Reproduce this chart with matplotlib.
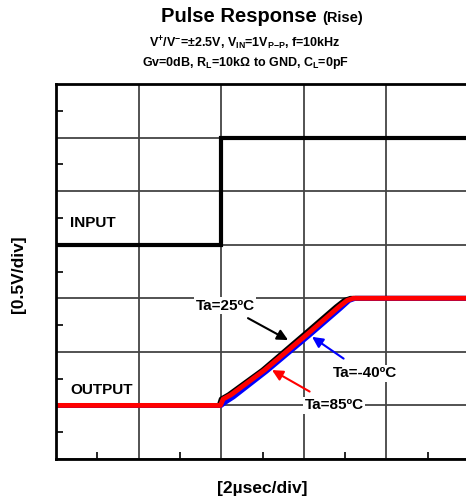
import numpy as np
import matplotlib.pyplot as plt
from matplotlib.ticker import MultipleLocator

plt.rcParams['font.family'] = ['Liberation Sans', 'DejaVu Sans']
plt.rcParams['font.weight'] = 'bold'
plt.rcParams['mathtext.fontset'] = 'custom'
plt.rcParams['mathtext.rm'] = 'Liberation Sans:bold'
plt.rcParams['mathtext.bf'] = 'Liberation Sans:bold'
plt.rcParams['mathtext.default'] = 'bf'

# time in usec, voltage in V (0.5 V/div)
t_in = [0.0, 4.0, 4.0, 10.2]
v_in = [2.0, 2.0, 3.0, 3.0]

t_25 = [0.0, 3.95, 4.0, 4.18, 5.0, 6.0, 6.78, 6.98, 7.13, 10.2]
v_25 = [0.5, 0.5, 0.56, 0.60, 0.83, 1.16, 1.42, 1.48, 1.5, 1.5]

t_m40 = [0.0, 4.0, 4.1, 4.3, 5.1, 6.12, 6.9, 7.1, 7.25, 10.2]
v_m40 = [0.5, 0.5, 0.53, 0.58, 0.82, 1.15, 1.41, 1.48, 1.5, 1.5]

t_85 = [0.0, 3.98, 4.05, 4.24, 5.05, 6.07, 6.85, 7.05, 7.2, 10.2]
v_85 = [0.5, 0.5, 0.56, 0.60, 0.83, 1.16, 1.42, 1.48, 1.5, 1.5]

fig = plt.figure(figsize=(4.66, 5.03), dpi=100)
ax = fig.add_axes([56/466, (503-459)/503, 413/466, 375/503])

ax.set_xlim(0, 10)
ax.set_ylim(0, 3.5)
ax.xaxis.set_major_locator(MultipleLocator(2))
ax.yaxis.set_major_locator(MultipleLocator(0.5))
ax.xaxis.set_minor_locator(MultipleLocator(1))
ax.yaxis.set_minor_locator(MultipleLocator(0.25))
ax.tick_params(which='both', direction='in', labelbottom=False, labelleft=False)
ax.tick_params(which='major', length=0)
ax.tick_params(which='minor', length=5, width=1.2, color='black')
ax.grid(True, which='major', color='#444444', linewidth=1.3)
for s in ax.spines.values():
    s.set_linewidth(2)
ax.spines['right'].set_visible(False)

ax.plot(t_in, v_in, color='black', lw=3, solid_joinstyle='miter')
ax.plot(t_25, v_25, color='black', lw=3.5)
ax.plot(t_m40, v_m40, color='blue', lw=3.5)
ax.plot(t_85, v_85, color='red', lw=3.5)

ax.text(0.34, 2.2, 'INPUT', fontsize=11, fontweight='bold', va='center')
ax.text(0.34, 0.644, 'OUTPUT', fontsize=11, fontweight='bold', va='center')

box = dict(facecolor='white', edgecolor='none', pad=1)
ax.annotate('Ta=25ºC', xy=(5.62, 1.11), xytext=(4.1, 1.43), fontsize=11,
            ha='center', va='center', bbox=box,
            arrowprops=dict(arrowstyle='-|>', color='black', lw=1.5,
                            mutation_scale=16, shrinkA=6, shrinkB=0))
ax.annotate('Ta=-40ºC', xy=(6.2, 1.14), xytext=(7.48, 0.80), fontsize=11,
            ha='center', va='center', bbox=box,
            arrowprops=dict(arrowstyle='-|>', color='blue', lw=1.5,
                            mutation_scale=16, shrinkA=8, shrinkB=0))
ax.annotate('Ta=85ºC', xy=(5.23, 0.83), xytext=(6.73, 0.50), fontsize=11,
            ha='center', va='center', bbox=box,
            arrowprops=dict(arrowstyle='-|>', color='red', lw=1.5,
                            mutation_scale=16, shrinkA=8, shrinkB=0))

fig.text(317/466, 1 - 17/503, 'Pulse Response', fontsize=14.5, fontweight='bold',
         ha='right', va='center')
fig.text(322/466, 1 - 18/503, '(Rise)', fontsize=10.5, fontweight='bold',
         ha='left', va='center')
fig.text(245/466, 1 - 43/503,
         r'V$^{+}$/V$^{-}$=±2.5V, V$_{IN}$=1V$_{P\mathrm{-}P}$, f=10kHz',
         fontsize=9, ha='center', va='center')
fig.text(245/466, 1 - 63/503,
         r'Gv=0dB, R$_{L}$=10kΩ to GND, C$_{L}$=0pF',
         fontsize=9, ha='center', va='center')

fig.text(18.5/466, 1 - 274/503, '[0.5V/div]', fontsize=12.5, fontweight='bold',
         rotation=90, ha='center', va='center')
fig.text(262/466, 1 - 488/503, '[2µsec/div]', fontsize=12.5, fontweight='bold',
         ha='center', va='center')

fig.savefig('out.png', dpi=100)
